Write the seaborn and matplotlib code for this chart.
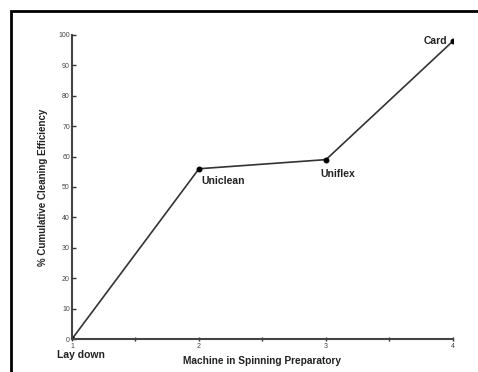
import matplotlib
matplotlib.use("Agg")
import matplotlib.pyplot as plt
import seaborn as sns
import pandas as pd

# stages of the spinning preparatory line
stage = [1, 2, 3, 4]
efficiency = [0, 56, 59, 98]
names = ["Lay down", "Uniclean", "Uniflex", "Card"]

sns.set_style("ticks")
plt.rcParams["font.family"] = ["Liberation Sans", "DejaVu Sans"]

df = pd.DataFrame({"stage": stage, "eff": efficiency})

fig = plt.figure(figsize=(4.78, 3.72), dpi=100)
ax = fig.add_axes([0.1506, 0.0887, 0.7971, 0.8173])

sns.lineplot(data=df, x="stage", y="eff", ax=ax, color="#333333", lw=1.2,
             marker="o", markersize=3.5, markerfacecolor="black",
             markeredgecolor="black")

ax.set_xlim(1, 4)
ax.set_ylim(0, 100)
ax.set_xticks([1, 2, 3, 4])
ax.set_xticks([1.5, 2.5, 3.5], minor=True)
ax.set_yticks(range(0, 101, 10))
ax.tick_params(axis="both", labelsize=5, length=3, width=1, direction="inout",
               pad=1.5, colors="#333333", labelcolor="#444444")
ax.tick_params(axis="x", which="minor", length=3, width=1, direction="inout", colors="#333333")
ax.tick_params(axis="y", direction="in")
sns.despine(ax=ax)
for s in ["left", "bottom"]:
    ax.spines[s].set_linewidth(1.5)
    ax.spines[s].set_color("#444444")

ax.set_xlabel("Machine in Spinning Preparatory", fontsize=7.3, fontweight="bold",
              color="#222222", labelpad=4)
ax.set_ylabel("% Cumulative Cleaning Efficiency", fontsize=7, fontweight="bold",
              color="#222222", labelpad=7.5)

offsets = [(6.5, -11.5), (2, -9), (-4.3, -10), (-4.3, 0)]
aligns = ["center", "left", "left", "right"]
for x, y, n, off, ha in zip(stage, efficiency, names, offsets, aligns):
    ax.annotate(n, (x, y), xytext=off, textcoords="offset points", ha=ha,
                va="center", fontsize=7.5, fontweight="bold", color="#222222",
                annotation_clip=False)

# frame around the figure (top and left visible)
fig.add_artist(plt.Rectangle((11 / 478, -0.1), 1.2, 1 - 11 / 372 + 0.1,
                             transform=fig.transFigure, fill=False,
                             edgecolor="black", lw=2))

fig.savefig("out.png", dpi=100)
